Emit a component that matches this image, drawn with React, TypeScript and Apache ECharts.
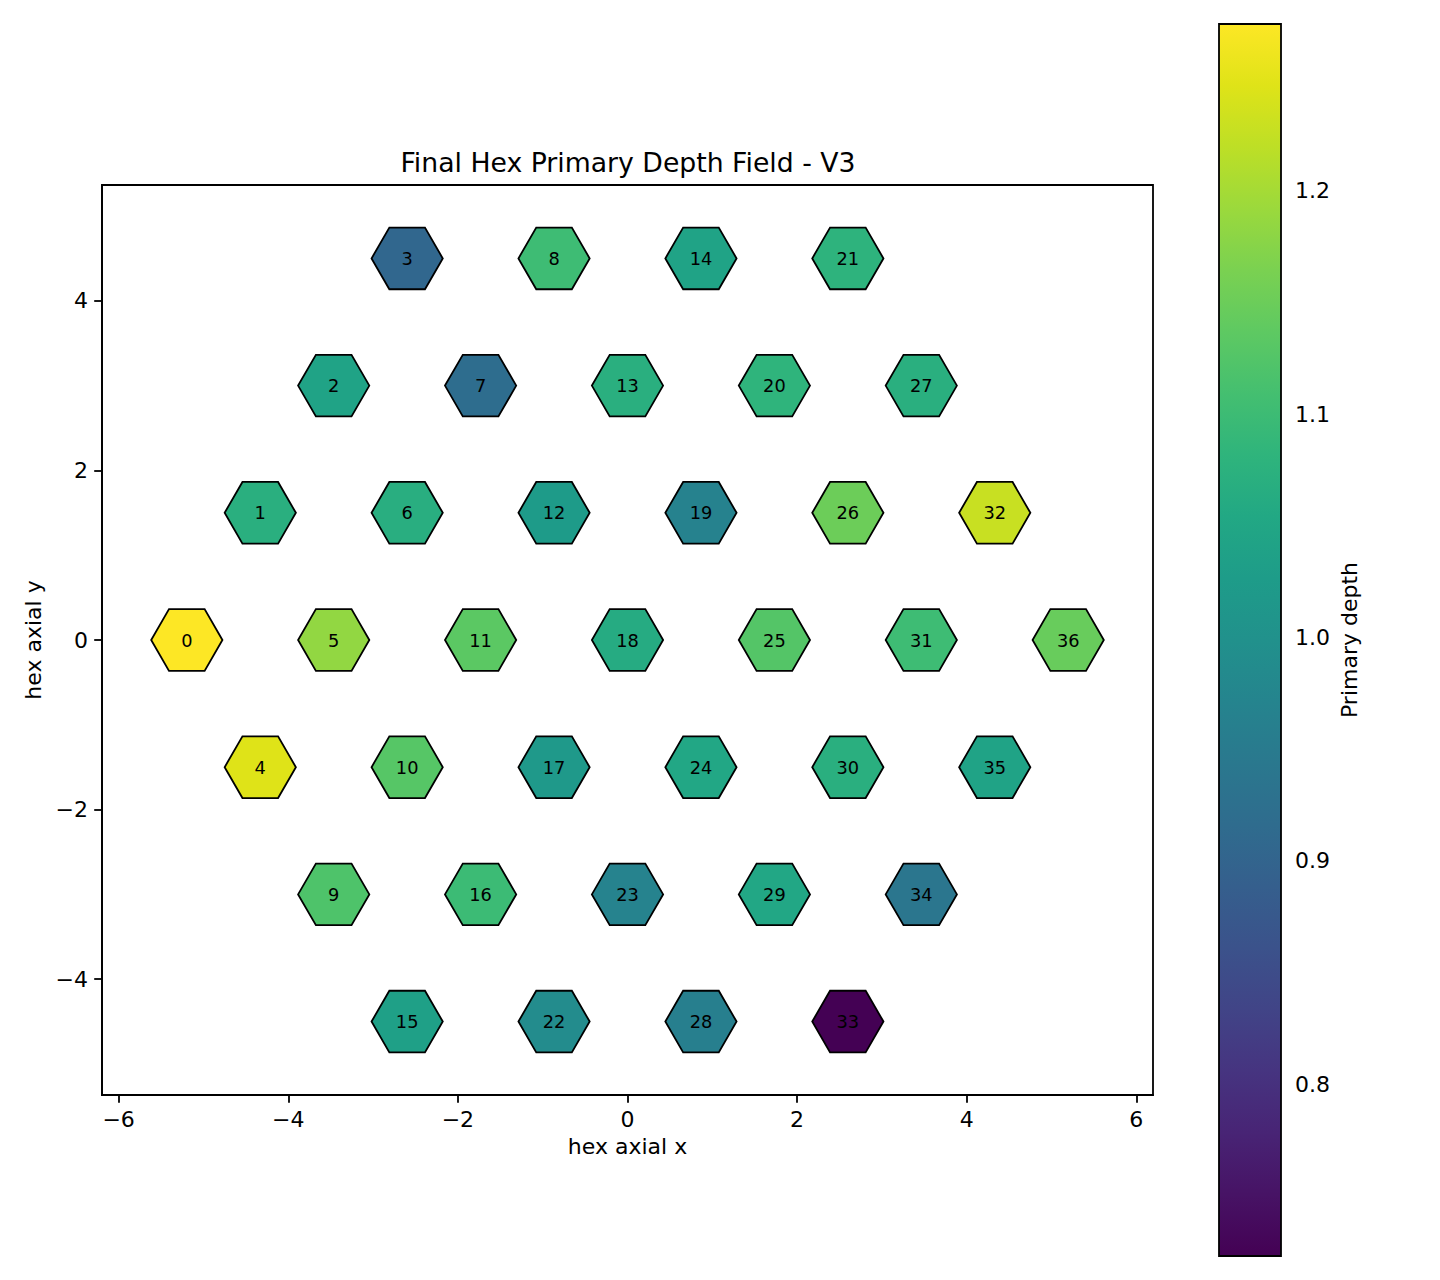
import React, { useEffect, useRef } from "react";
import * as echarts from "echarts";

// ---- data ----
const cellIds = [
  0, 1, 2, 3, 4, 5, 6, 7, 8, 9, 10, 11, 12, 13, 14, 15, 16, 17, 18, 19, 20, 21, 22, 23, 24, 25, 26, 27, 28, 29, 30,
  31, 32, 33, 34, 35, 36,
];
const cellQ = [
  -3, -3, -3, -3, -2, -2, -2, -2, -2, -1, -1, -1, -1, -1, -1, 0, 0, 0, 0, 0, 0, 0, 1, 1, 1, 1, 1, 1, 2, 2, 2, 2, 2, 3,
  3, 3, 3,
];
const cellR = [
  0, 1, 2, 3, -1, 0, 1, 2, 3, -2, -1, 0, 1, 2, 3, -3, -2, -1, 0, 1, 2, 3, -3, -2, -1, 0, 1, 2, -3, -2, -1, 0, 1, -3,
  -2, -1, 0,
];
const depthValues = [
  1.2746, 1.07, 1.043, 0.905, 1.247, 1.184, 1.068, 0.919, 1.101, 1.12, 1.128, 1.134, 1.024, 1.07, 1.043, 1.035,
  1.098, 1.018, 1.062, 0.966, 1.081, 1.079, 0.988, 0.968, 1.051, 1.126, 1.151, 1.07, 0.96, 1.051, 1.07, 1.101, 1.228,
  0.7231, 0.938, 1.043, 1.147,
];
const xTicks = [-6, -4, -2, 0, 2, 4, 6];
const yTicks = [-4, -2, 0, 2, 4];
const cbarTicks = [0.8, 0.9, 1.0, 1.1, 1.2];

const VMIN = Math.min(...depthValues);
const VMAX = Math.max(...depthValues);
const HEX_R = 0.42;
const SQ3 = Math.sqrt(3);

const VIRIDIS = [
  "#440154", "#471365", "#482475", "#463480", "#414487", "#3b528b", "#355f8d", "#2f6c8e", "#2a788e", "#25848e",
  "#21918c", "#1e9c89", "#22a884", "#2fb47c", "#44bf70", "#5ec962", "#7ad151", "#9bd93c", "#bddf26", "#dfe318",
  "#fde725",
];

function hexToRgb(h: string) {
  return [parseInt(h.slice(1, 3), 16), parseInt(h.slice(3, 5), 16), parseInt(h.slice(5, 7), 16)];
}
function viridis(t: number) {
  const tt = Math.max(0, Math.min(1, t));
  const n = VIRIDIS.length - 1;
  const p = tt * n;
  const i = Math.min(n - 1, Math.floor(p));
  const f = p - i;
  const a = hexToRgb(VIRIDIS[i]);
  const b = hexToRgb(VIRIDIS[i + 1]);
  const c = a.map((v, k) => Math.round(v + (b[k] - v) * f));
  return `rgb(${c[0]},${c[1]},${c[2]})`;
}

const FONT = "DejaVu Sans";
const minus = (v: number) => (v < 0 ? "\u2212" + Math.abs(v) : String(v));

export default function App() {
  const ref = useRef<HTMLDivElement>(null);
  useEffect(() => {
    if (!ref.current) return;
    const chart = echarts.init(ref.current, undefined, { renderer: "svg" });
    const hexData = cellIds.map((id, i) => [SQ3 * (cellQ[i] + cellR[i] / 2), 1.5 * cellR[i], depthValues[i], id]);
    const xMax = SQ3 * 3 + 1;
    const yMax = 4.5 + SQ3 / 2;
    const axisCommon = {
      axisLine: { show: true, onZero: false, lineStyle: { color: "#000", width: 1.8 } },
      axisTick: { show: true, inside: false, length: 7.8, lineStyle: { color: "#000", width: 1.8 } },
      splitLine: { show: false },
    };
    const option: any = {
      animation: false,
      backgroundColor: "#fff",
      textStyle: { fontFamily: FONT },
      title: {
        text: "Final Hex Primary Depth Field - V3",
        left: 628,
        top: 149,
        padding: 0,
        textAlign: "center",
        textStyle: { fontFamily: FONT, fontSize: 26.7, fontWeight: "normal", color: "#000" },
      },
      grid: [
        { left: 102, top: 185, width: 1051, height: 910, show: true, borderColor: "#000", borderWidth: 1.8, backgroundColor: "transparent" },
        { left: 1219, top: 24, width: 62, height: 1232, show: false },
      ],
      xAxis: [
        {
          ...axisCommon,
          gridIndex: 0,
          type: "value",
          min: -xMax,
          max: xMax,
          name: "hex axial x",
          nameLocation: "middle",
          nameGap: 40,
          nameTextStyle: { fontFamily: FONT, fontSize: 22, color: "#000" },
          axisTick: { ...axisCommon.axisTick, customValues: xTicks },
          axisLabel: { customValues: xTicks, formatter: minus, fontFamily: FONT, fontSize: 22, color: "#000", margin: 13 },
        },
        { gridIndex: 1, type: "value", min: 0, max: 1, show: false },
      ],
      yAxis: [
        {
          ...axisCommon,
          gridIndex: 0,
          type: "value",
          min: -yMax,
          max: yMax,
          name: "hex axial y",
          nameLocation: "middle",
          nameRotate: 90,
          nameGap: 56,
          nameTextStyle: { fontFamily: FONT, fontSize: 22, color: "#000" },
          axisTick: { ...axisCommon.axisTick, customValues: yTicks },
          axisLabel: { customValues: yTicks, formatter: minus, fontFamily: FONT, fontSize: 22, color: "#000", margin: 14 },
        },
        {
          gridIndex: 1,
          type: "value",
          position: "right",
          min: VMIN,
          max: VMAX,
          name: "Primary depth",
          nameLocation: "middle",
          nameRotate: 90,
          nameGap: 57,
          nameTextStyle: { fontFamily: FONT, fontSize: 22, color: "#000" },
          axisLine: { show: false },
          splitLine: { show: false },
          axisTick: { show: true, length: 7.8, customValues: cbarTicks, lineStyle: { color: "#000", width: 1.8 } },
          axisLabel: {
            customValues: cbarTicks,
            formatter: (v: number) => v.toFixed(1),
            fontFamily: FONT,
            fontSize: 22,
            color: "#000",
            margin: 14,
          },
        },
      ],
      series: [
        {
          type: "custom",
          xAxisIndex: 0,
          yAxisIndex: 0,
          data: hexData,
          renderItem: (_p: any, api: any) => {
            const cx = api.value(0);
            const cy = api.value(1);
            const v = api.value(2);
            const id = api.value(3);
            const pts: number[][] = [];
            for (let k = 0; k < 6; k++) {
              const a = (Math.PI / 3) * k;
              pts.push(api.coord([cx + HEX_R * Math.cos(a), cy + HEX_R * Math.sin(a)]));
            }
            const c = api.coord([cx, cy]);
            return {
              type: "group",
              children: [
                {
                  type: "polygon",
                  shape: { points: pts },
                  style: { fill: viridis((v - VMIN) / (VMAX - VMIN)), stroke: "#000", lineWidth: 1.8 },
                },
                {
                  type: "text",
                  x: c[0],
                  y: c[1],
                  style: {
                    text: String(id),
                    fill: "#000",
                    fontFamily: FONT,
                    fontSize: 17.8,
                    align: "center",
                    verticalAlign: "middle",
                  },
                },
              ],
            };
          },
        },
        {
          type: "custom",
          xAxisIndex: 1,
          yAxisIndex: 1,
          data: [[0, VMIN, 1, VMAX]],
          renderItem: (_p: any, api: any) => {
            const p0 = api.coord([api.value(0), api.value(3)]);
            const p1 = api.coord([api.value(2), api.value(1)]);
            const stops = VIRIDIS.map((col, i) => ({ offset: 1 - i / (VIRIDIS.length - 1), color: col })).reverse();
            return {
              type: "rect",
              shape: { x: p0[0], y: p0[1], width: p1[0] - p0[0], height: p1[1] - p0[1] },
              style: {
                fill: new echarts.graphic.LinearGradient(0, 0, 0, 1, stops),
                stroke: "#000",
                lineWidth: 1.8,
              },
            };
          },
        },
      ],
    };
    chart.setOption(option);
    return () => chart.dispose();
  }, []);
  return <div ref={ref} style={{ position: "absolute", left: 0, top: 0, width: 1440, height: 1280 }} />;
}
